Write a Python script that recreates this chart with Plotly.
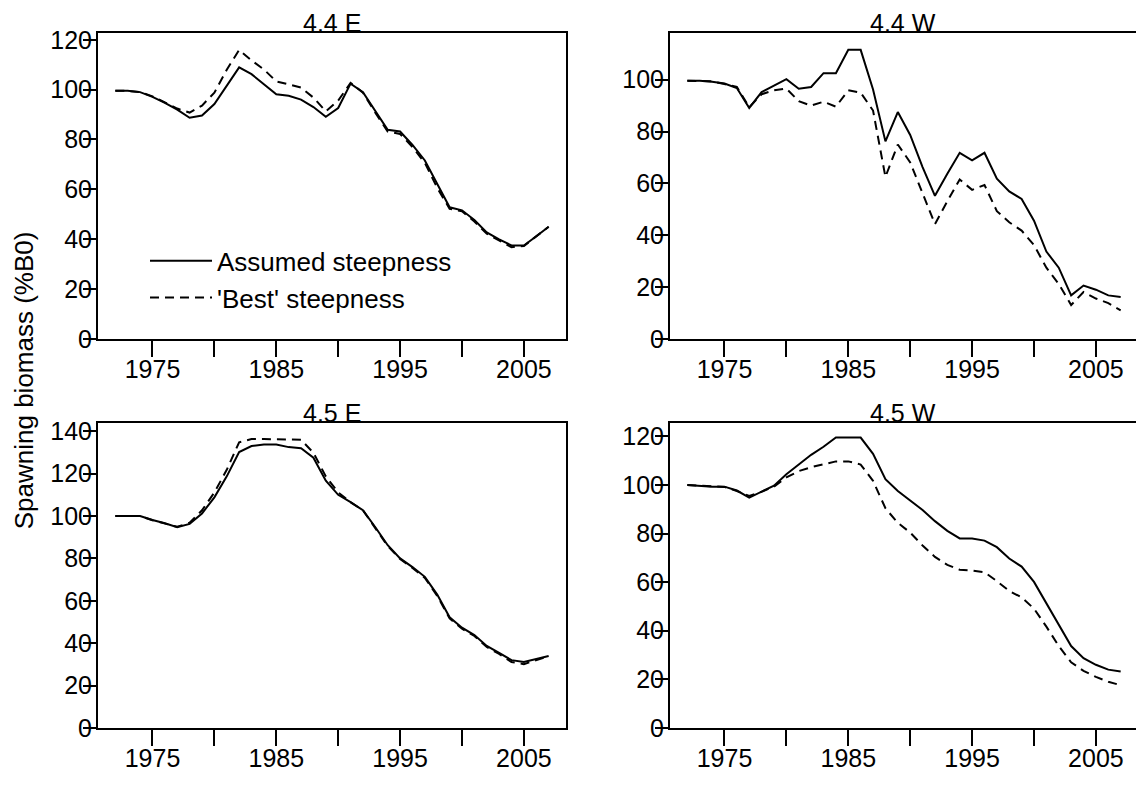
import plotly.graph_objects as go

# Spawning biomass (%B0) by year, two steepness assumptions per stock
years = list(range(1972, 2008))

e44_assumed = [99.5, 99.5, 99.0, 97.1, 94.7, 92.0, 88.7, 89.6, 94.2, 101.6,
               108.9, 106.2, 102.1, 98.1, 97.5, 96.0, 93.0, 89.1, 92.6, 102.4,
               99.0, 91.6, 83.9, 83.2, 77.8, 71.6, 61.9, 52.8, 51.6, 47.7,
               42.7, 39.9, 37.5, 37.5, 41.2, 45.0]
e44_best = [99.5, 99.5, 99.0, 97.3, 94.9, 92.4, 90.8, 93.6, 98.8, 108.0,
            115.9, 111.7, 108.1, 103.3, 102.1, 100.8, 96.8, 91.3, 95.6, 102.7,
            98.8, 90.7, 83.2, 82.2, 77.0, 70.6, 60.6, 52.2, 51.2, 47.1,
            42.2, 39.4, 36.8, 37.3, 41.2, 45.0]

w44_assumed = [99.6, 99.6, 99.2, 98.5, 96.8, 89.1, 95.2, 97.8, 100.2, 96.5,
               97.2, 102.5, 102.5, 111.5, 111.5, 96.2, 76.2, 87.5, 78.7, 66.3,
               55.2, 63.7, 71.8, 68.9, 71.8, 61.8, 56.9, 54.0, 45.6, 33.7,
               27.5, 16.8, 20.6, 19.0, 16.8, 16.2]
w44_best = [99.6, 99.6, 99.4, 98.3, 97.2, 89.4, 94.4, 95.9, 96.6, 91.7,
            90.0, 91.5, 89.6, 95.9, 95.0, 88.1, 62.5, 75.0, 68.1, 56.2,
            44.3, 53.1, 61.5, 57.5, 59.4, 49.3, 45.0, 41.8, 36.2, 27.5,
            21.2, 13.1, 18.1, 15.6, 13.8, 11.0]

e45_assumed = [100.0, 100.0, 100.0, 98.1, 96.6, 94.7, 96.3, 101.2, 108.8, 118.7,
               130.2, 133.0, 133.7, 133.7, 132.5, 132.0, 127.5, 116.7, 110.0, 106.5,
               102.7, 94.7, 86.2, 80.0, 75.9, 71.3, 62.9, 52.2, 47.3, 43.8,
               38.7, 35.4, 32.0, 31.1, 32.6, 33.9]
e45_best = [100.0, 100.0, 100.0, 98.0, 96.3, 94.9, 96.8, 102.7, 111.1, 121.8,
            134.8, 136.3, 136.3, 136.3, 136.3, 136.0, 129.8, 118.7, 111.1, 106.5,
            102.7, 94.3, 85.8, 79.7, 75.5, 70.8, 62.3, 51.7, 46.8, 43.4,
            38.2, 34.9, 31.1, 30.1, 32.0, 33.9]

w45_assumed = [100.0, 99.5, 99.3, 99.3, 97.7, 94.8, 97.1, 99.7, 104.4, 108.6,
               112.4, 115.7, 119.5, 119.5, 119.5, 112.8, 102.4, 97.5, 93.7, 89.7,
               85.1, 81.1, 78.0, 78.0, 77.1, 74.4, 69.7, 66.4, 60.1, 51.1,
               42.4, 33.7, 28.7, 26.0, 24.0, 23.2]
w45_best = [100.0, 99.8, 99.3, 99.2, 97.5, 95.5, 97.2, 99.3, 103.1, 105.7,
            107.3, 108.6, 109.7, 109.7, 108.4, 101.7, 90.4, 84.4, 80.4, 75.1,
            70.4, 67.1, 65.1, 64.8, 64.1, 60.4, 56.4, 53.7, 49.1, 41.7,
            33.7, 27.0, 23.5, 21.0, 19.0, 17.6]

panel_titles = ["4.4 E", "4.4 W", "4.5 E", "4.5 W"]
series_names = ["Assumed steepness", "'Best' steepness"]
x_tick_years = [1975, 1980, 1985, 1990, 1995, 2000, 2005]
x_tick_text = ["1975", "", "1985", "", "1995", "", "2005"]
y_ticks_small = [0, 20, 40, 60, 80, 100, 120]
y_ticks_large = [0, 20, 40, 60, 80, 100, 120, 140]
y_axis_title = "Spawning biomass (%B0)"

W, H = 1136, 785
FONT = "Liberation Sans, Arial, Helvetica, sans-serif"
FS = 25


def fx(px):
    return px / W


def fy(px):
    return 1 - px / H


# panel boxes in pixels: (left, right), (top, bottom); x range; y max
YEAR_PER_PX = (2008.4 - 1970.6) / (566 - 98)
panels = [
    dict(title=panel_titles[0], a=e44_assumed, b=e44_best, xpx=(98, 566),
         ypx=(26, 340.5), xr=(1970.6, 2008.4), ymax=122.6, yt=y_ticks_small, box=True),
    dict(title=panel_titles[1], a=w44_assumed, b=w44_best, xpx=(670, 1136),
         ypx=(26, 340.5), xr=(1970.6, 1970.6 + (1136 - 670) * YEAR_PER_PX),
         ymax=117.9, yt=y_ticks_small[:-1], box=False),
    dict(title=panel_titles[2], a=e45_assumed, b=e45_best, xpx=(98, 566),
         ypx=(426.7, 740.7), xr=(1970.6, 2008.4), ymax=144.0, yt=y_ticks_large, box=True),
    dict(title=panel_titles[3], a=w45_assumed, b=w45_best, xpx=(670, 1136),
         ypx=(426.7, 740.7), xr=(1970.6, 1970.6 + (1136 - 670) * YEAR_PER_PX),
         ymax=125.6, yt=y_ticks_small, box=False),
]

fig = go.Figure()
layout = dict(
    width=W, height=H,
    margin=dict(l=0, r=0, t=0, b=0),
    paper_bgcolor="white", plot_bgcolor="white",
    font=dict(family=FONT, size=FS, color="black"),
    showlegend=True,
    legend=dict(x=fx(145), y=fy(236), xanchor="left", yanchor="top",
                bgcolor="rgba(0,0,0,0)", font=dict(size=26),
                itemwidth=62, tracegroupgap=0),
    annotations=[],
)

for i, p in enumerate(panels):
    sfx = "" if i == 0 else str(i + 1)
    xa, ya = "x" + sfx, "y" + sfx
    fig.add_trace(go.Scatter(x=years, y=p["a"], mode="lines", name=series_names[0],
                             line=dict(color="black", width=2),
                             showlegend=(i == 0), xaxis=xa, yaxis=ya))
    fig.add_trace(go.Scatter(x=years, y=p["b"], mode="lines", name=series_names[1],
                             line=dict(color="black", width=2, dash="9px,6px"),
                             showlegend=(i == 0), xaxis=xa, yaxis=ya))
    layout["xaxis" + sfx] = dict(
        domain=[fx(p["xpx"][0]), min(1.0, fx(p["xpx"][1]))], range=list(p["xr"]),
        anchor=ya, showline=True, linecolor="black", linewidth=2, mirror=True,
        ticks="outside", ticklen=16, tickwidth=2, tickcolor="black",
        tickmode="array", tickvals=x_tick_years, ticktext=x_tick_text,
        ticklabelstandoff=-9,
        tickfont=dict(size=FS), showgrid=False, zeroline=False,
    )
    layout["yaxis" + sfx] = dict(
        domain=[fy(p["ypx"][1]), fy(p["ypx"][0])], range=[0, p["ymax"]],
        anchor=xa, showline=True, linecolor="black", linewidth=2, mirror=p["box"],
        ticks="outside", ticklen=13, tickwidth=2, tickcolor="black",
        tickmode="array", tickvals=p["yt"], ticklabelstandoff=-14,
        tickfont=dict(size=FS), showgrid=False, zeroline=False,
    )
    layout["annotations"].append(dict(
        text=p["title"], xref="paper", yref="paper",
        x=(fx(p["xpx"][0]) + fx(p["xpx"][1])) / 2, y=fy(p["ypx"][0]),
        xanchor="center", yanchor="bottom", yshift=-6, showarrow=False,
        font=dict(size=FS),
    ))

layout["annotations"].append(dict(
    text=y_axis_title, xref="paper", yref="paper", x=fx(24), y=fy(383),
    xanchor="center", yanchor="middle", textangle=-90, showarrow=False,
    font=dict(size=26),
))

fig.update_layout(**layout)
fig.write_html("out.html")
